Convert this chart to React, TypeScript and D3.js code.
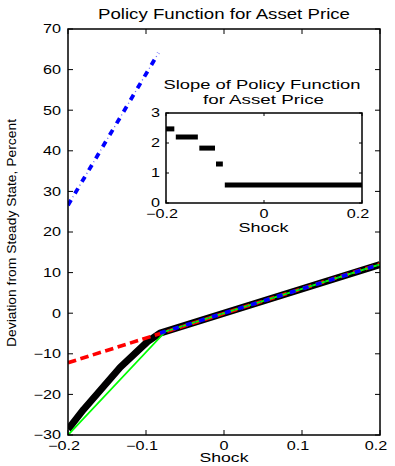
import React from "react";
import * as d3 from "d3";

// Axis ticks
const shockTicks = [-0.2, -0.1, 0, 0.1, 0.2];
const deviationTicks = [-30, -20, -10, 0, 10, 20, 30, 40, 50, 60, 70];
const insetShockTicks = [-0.2, 0, 0.2];
const insetSlopeTicks = [0, 1, 2, 3];

// Full nonlinear policy (thick black)
const nonlinearShock = [-0.2, -0.18, -0.133, -0.098, -0.082, 0.2];
const nonlinearDev = [-28.6, -23.7, -13.3, -7.0, -4.9, 12.0];

// Linear policy (red dashed)
const linearShock = [-0.2, 0.2];
const linearDev = [-12.2, 12.1];

// Piecewise-linear policy (green)
const piecewiseShock = [-0.2, -0.075, 0.2];
const piecewiseDev = [-30, -4.5, 12.0];

// Regime-switching policy (blue dash-dot): upper and lower branches
const upperShock = [-0.2, -0.084];
const upperDev = [26.6, 64.1];
const lowerShock = [-0.082, 0.2];
const lowerDev = [-4.9, 12.0];

// Slope of the nonlinear policy, constant on each interval
const slopeFrom = [-0.2, -0.18, -0.132, -0.098, -0.08];
const slopeTo = [-0.183, -0.135, -0.1, -0.084, 0.2];
const slopeValue = [2.47, 2.2, 1.83, 1.3, 0.6];

const FONT = "'Liberation Sans', Arial, Helvetica, sans-serif";
const SX = 1.35;

const fmt = (v: number) => d3.format("")(v).replace("-", "\u2212");

function zip(xs: number[], ys: number[]): [number, number][] {
  return xs.map((x, i) => [x, ys[i]]);
}

export default function App() {
  const W = 395;
  const H = 466;

  // main axes
  const x = d3.scaleLinear().domain([-0.2, 0.2]).range([68, 380]);
  const y = d3.scaleLinear().domain([-30, 70]).range([435, 29]);
  const line = d3
    .line<[number, number]>()
    .x((d) => x(d[0]))
    .y((d) => y(d[1]));

  // inset axes
  const ix = d3.scaleLinear().domain([-0.2, 0.2]).range([166, 362]);
  const iy = d3.scaleLinear().domain([0, 3]).range([203, 113]);

  const [x0, x1] = x.range();
  const [y0, y1] = y.range();
  const [ix0, ix1] = ix.range();
  const [iy0, iy1] = iy.range();
  const tick = 5;
  const itick = 3;

  const blueBranches = [zip(upperShock, upperDev), zip(lowerShock, lowerDev)];

  return (
    <svg
      width={W}
      height={H}
      style={{ position: "absolute", left: 0, top: 0, background: "#fff" }}
      fontFamily={FONT}
    >
      <defs>
        <clipPath id="mainClip">
          <rect x={x0} y={y1} width={x1 - x0} height={y0 - y1} />
        </clipPath>
        <clipPath id="insetClip">
          <rect x={ix0} y={iy1} width={ix1 - ix0} height={iy0 - iy1} />
        </clipPath>
      </defs>
      <rect x={0} y={0} width={W} height={H} fill="#fff" />

      {/* main title */}
      <text x={224} y={19} fontSize={14} textAnchor="middle" textLength={252} lengthAdjust="spacingAndGlyphs">
        Policy Function for Asset Price
      </text>

      {/* series */}
      <g clipPath="url(#mainClip)" fill="none">
        <path d={line(zip(nonlinearShock, nonlinearDev)) || ""} stroke="#000" strokeWidth={7} strokeLinejoin="round" />
        <path d={line(zip(linearShock, linearDev)) || ""} stroke="#ff0000" strokeWidth={3.6} strokeDasharray="8.5 4.5" />
        <path d={line(zip(piecewiseShock, piecewiseDev)) || ""} stroke="#00ff00" strokeWidth={1.8} />
        {blueBranches.map((b, i) => (
          <g key={"b" + i}>
            <path d={line(b) || ""} stroke="#0000ff" strokeWidth={3.8} strokeDasharray="6 7.6" />
            <path d={line(b) || ""} stroke="#0000ff" strokeWidth={1.4} strokeOpacity={0.6} strokeDasharray="1 12.6" strokeDashoffset={4.3} />
          </g>
        ))}
      </g>

      {/* main box and ticks */}
      <rect x={x0} y={y1} width={x1 - x0} height={y0 - y1} fill="none" stroke="#000" strokeWidth={1.5} />
      {shockTicks.map((t) => (
        <g key={"xt" + t} stroke="#000" strokeWidth={1}>
          <line x1={x(t)} x2={x(t)} y1={y0} y2={y0 - tick} />
          <line x1={x(t)} x2={x(t)} y1={y1} y2={y1 + tick} />
        </g>
      ))}
      {deviationTicks.map((t) => (
        <g key={"yt" + t} stroke="#000" strokeWidth={1}>
          <line x1={x0} x2={x0 + tick} y1={y(t)} y2={y(t)} />
          <line x1={x1} x2={x1 - tick} y1={y(t)} y2={y(t)} />
        </g>
      ))}
      {shockTicks.map((t) => {
        const s = fmt(t);
        return (
          <text
            key={"xl" + t}
            transform={`translate(${x(t) - (s.length > 1 ? 4 : 0)},450) scale(${SX},1)`}
            fontSize={12}
            textAnchor="middle"
          >
            {s}
          </text>
        );
      })}
      {deviationTicks.map((t) => (
        <text key={"yl" + t} transform={`translate(61,${y(t) + 4.3}) scale(${SX},1)`} fontSize={12} textAnchor="end">
          {fmt(t)}
        </text>
      ))}
      <text x={224} y={461.5} fontSize={12} textAnchor="middle" textLength={49} lengthAdjust="spacingAndGlyphs">
        Shock
      </text>
      <text
        transform={`translate(16,233) rotate(-90)`}
        fontSize={12.5}
        textAnchor="middle"
        textLength={228}
        lengthAdjust="spacingAndGlyphs"
      >
        Deviation from Steady State, Percent
      </text>

      {/* inset: slope of the policy function */}
      <text x={262} y={89} fontSize={12.5} textAnchor="middle" textLength={197} lengthAdjust="spacingAndGlyphs">
        Slope of Policy Function
      </text>
      <text x={263.5} y={104} fontSize={12.5} textAnchor="middle" textLength={121} lengthAdjust="spacingAndGlyphs">
        for Asset Price
      </text>
      <rect x={ix0} y={iy1} width={ix1 - ix0} height={iy0 - iy1} fill="#fff" />
      <g clipPath="url(#insetClip)">
        {slopeValue.map((v, i) => (
          <line
            key={"s" + i}
            x1={ix(slopeFrom[i])}
            x2={ix(slopeTo[i])}
            y1={iy(v)}
            y2={iy(v)}
            stroke="#000"
            strokeWidth={5}
          />
        ))}
      </g>
      <rect x={ix0} y={iy1} width={ix1 - ix0} height={iy0 - iy1} fill="none" stroke="#000" strokeWidth={1.5} />
      {insetShockTicks.map((t) => (
        <g key={"ixt" + t} stroke="#000" strokeWidth={1}>
          <line x1={ix(t)} x2={ix(t)} y1={iy0} y2={iy0 - itick} />
          <line x1={ix(t)} x2={ix(t)} y1={iy1} y2={iy1 + itick} />
        </g>
      ))}
      {insetSlopeTicks.map((t) => (
        <g key={"iyt" + t} stroke="#000" strokeWidth={1}>
          <line x1={ix0} x2={ix0 + itick} y1={iy(t)} y2={iy(t)} />
          <line x1={ix1} x2={ix1 - itick} y1={iy(t)} y2={iy(t)} />
        </g>
      ))}
      {insetShockTicks.map((t) => {
        const s = fmt(t);
        return (
          <text
            key={"ixl" + t}
            transform={`translate(${ix(t) - (s.length > 1 ? 4 : 0)},218.3) scale(${SX},1)`}
            fontSize={12}
            textAnchor="middle"
          >
            {s}
          </text>
        );
      })}
      {insetSlopeTicks.map((t) => (
        <text key={"iyl" + t} transform={`translate(160,${iy(t) + 4.3}) scale(${SX},1)`} fontSize={12} textAnchor="end">
          {fmt(t)}
        </text>
      ))}
      <text x={263.5} y={231.7} fontSize={12} textAnchor="middle" textLength={50} lengthAdjust="spacingAndGlyphs">
        Shock
      </text>
    </svg>
  );
}
